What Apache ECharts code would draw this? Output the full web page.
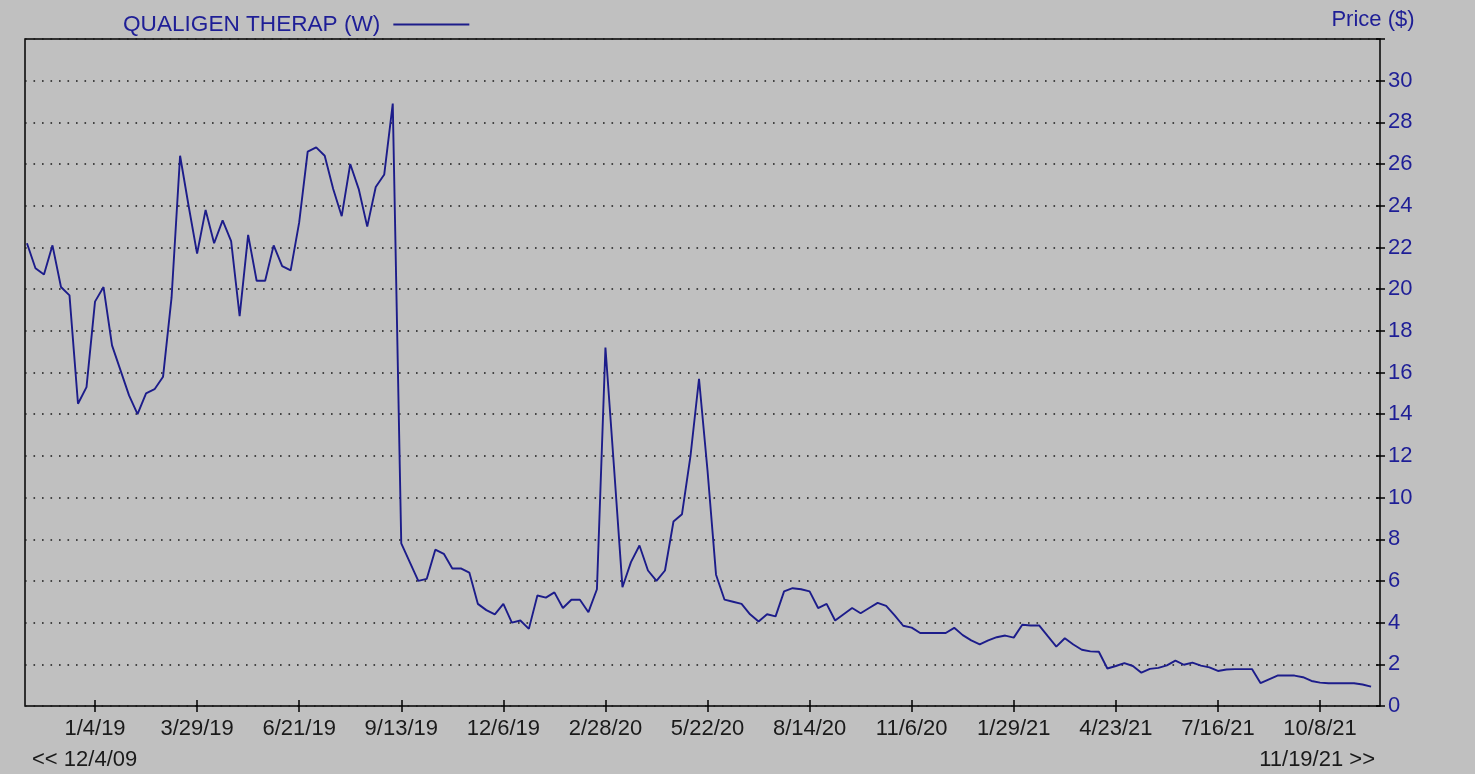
<!DOCTYPE html>
<html>
<head>
<meta charset="utf-8">
<script src="https://cdn.jsdelivr.net/npm/echarts@6/dist/echarts.min.js"></script>
<style>
html,body{margin:0;padding:0;background:#c0c0c0;}
#chart{width:1475px;height:774px;}
</style>
</head>
<body>
<div id="chart"></div>
<script>
// Weekly closing prices; week index 0 = 1/4/19, first value is week FIRST_WEEK
const seriesName = 'QUALIGEN THERAP (W)';
const FIRST_WEEK = -8;
const prices = [
  22.2, 21.0, 20.7, 22.1, 20.1, 19.7, 14.5, 15.3,
  19.4, 20.1, 17.3, 16.1, 14.9, 14.0, 15.0, 15.2, 15.8, 19.6,
  26.4, 24.0, 21.7, 23.8, 22.2, 23.3, 22.3, 18.7, 22.6, 20.4,
  20.4, 22.1, 21.1, 20.9, 23.2, 26.6, 26.8, 26.4, 24.8, 23.5,
  26.0, 24.8, 23.0, 24.9, 25.5, 28.9, 7.8, 6.9, 6.0, 6.1,
  7.5, 7.3, 6.6, 6.6, 6.4, 4.9, 4.6, 4.4, 4.9, 4.0,
  4.1, 3.7, 5.3, 5.2, 5.45, 4.7, 5.1, 5.1, 4.5, 5.6,
  17.2, 11.5, 5.7, 6.9, 7.7, 6.5, 6.0, 6.5, 8.85, 9.2,
  12.0, 15.7, 11.3, 6.3, 5.1, 5.0, 4.9, 4.4, 4.05, 4.4,
  4.3, 5.5, 5.65, 5.6, 5.5, 4.7, 4.9, 4.1, 4.4, 4.7,
  4.45, 4.7, 4.95, 4.8, 4.35, 3.85, 3.76, 3.5, 3.5, 3.5,
  3.5, 3.75, 3.4, 3.15, 2.96, 3.15, 3.3, 3.38, 3.28, 3.9,
  3.86, 3.86, 3.35, 2.85, 3.25, 2.95, 2.7, 2.62, 2.6, 1.8,
  1.92, 2.06, 1.92, 1.6, 1.78, 1.83, 1.95, 2.18, 1.98, 2.08,
  1.94, 1.85, 1.68, 1.75, 1.77, 1.77, 1.77, 1.1, 1.28, 1.46,
  1.46, 1.46, 1.38, 1.2, 1.12, 1.09, 1.09, 1.09, 1.09, 1.03,
  0.93
];
const tickWeeks = [0, 12, 24, 36, 48, 60, 72, 84, 96, 108, 120, 132, 144];
const tickLabels = ['1/4/19','3/29/19','6/21/19','9/13/19','12/6/19','2/28/20','5/22/20','8/14/20','11/6/20','1/29/21','4/23/21','7/16/21','10/8/21'];
const rangeStartLabel = '<< 12/4/09';
const rangeEndLabel = '11/19/21 >>';
const yTitle = 'Price ($)';

const FONT = 'Liberation Sans, Arial, sans-serif';
const NAVY = '#1e1e96';
const LINE = '#1c1c8a';
const FS = 22;

const data = prices.map((v, k) => [FIRST_WEEK + k, v]);

const chart = echarts.init(document.getElementById('chart'), null, {renderer: 'canvas'});
const xCommon = {
  type: 'value', min: -8.23, max: 151.05,
  axisLine: {show: false, onZero: false}, splitLine: {show: false}
};
chart.setOption({
  backgroundColor: '#c0c0c0',
  animation: false,
  grid: {left: 25, right: 95, top: 39, bottom: 68, show: true,
         borderColor: '#000', borderWidth: 1.5, backgroundColor: 'transparent'},
  legend: {
    left: 118, top: 8, align: 'right', itemWidth: 76, itemHeight: 2, icon: 'rect',
    data: [{name: seriesName}],
    textStyle: {color: NAVY, fontFamily: FONT, fontSize: 22.6, padding: [0, 8, 0, 0]}
  },
  xAxis: [
    Object.assign({}, xCommon, {
      axisTick: {show: true, customValues: tickWeeks, length: 6, lineStyle: {color: '#000', width: 1.5}},
      axisLabel: {show: true, customValues: tickWeeks, margin: 12, color: '#1a1a1a',
        fontFamily: FONT, fontSize: FS,
        formatter: v => { const j = tickWeeks.indexOf(Math.round(v)); return j >= 0 ? tickLabels[j] : ''; }}
    }),
    Object.assign({}, xCommon, {
      position: 'bottom',
      axisTick: {show: true, inside: true, customValues: tickWeeks, length: 6, lineStyle: {color: '#000', width: 1.5}},
      axisLabel: {show: false}
    })
  ],
  yAxis: [
    {
      type: 'value', position: 'right', min: 0, max: 32, interval: 2,
      name: yTitle, nameLocation: 'end', nameGap: 8,
      nameTextStyle: {color: NAVY, fontFamily: FONT, fontSize: FS, align: 'center', padding: [0, 14, 0, 0]},
      axisLine: {show: false, onZero: false},
      axisTick: {show: true, length: 5, lineStyle: {color: '#000', width: 1.5}},
      axisLabel: {margin: 8, color: NAVY, fontFamily: FONT, fontSize: FS,
        formatter: v => (v > 30 ? '' : String(v))},
      splitLine: {show: true, lineStyle: {color: '#1a1a1a', width: 1.6, type: [1.6, 6.9]}}
    },
    {
      type: 'value', position: 'right', min: 0, max: 32, interval: 2,
      axisLine: {show: false, onZero: false},
      axisTick: {show: true, inside: true, length: 4, lineStyle: {color: '#000', width: 1.5}},
      axisLabel: {show: false}, splitLine: {show: false}
    }
  ],
  graphic: [
    {type: 'text', left: 32, top: 749, style: {text: rangeStartLabel, fill: '#1a1a1a', font: FS + 'px ' + FONT}},
    {type: 'text', right: 100, top: 749, style: {text: rangeEndLabel, fill: '#1a1a1a', font: FS + 'px ' + FONT}}
  ],
  series: [{
    name: seriesName, type: 'line', xAxisIndex: 0, yAxisIndex: 0,
    data: data, symbol: 'none', color: LINE,
    lineStyle: {color: LINE, width: 1.9}
  }]
});
</script>
</body>
</html>
